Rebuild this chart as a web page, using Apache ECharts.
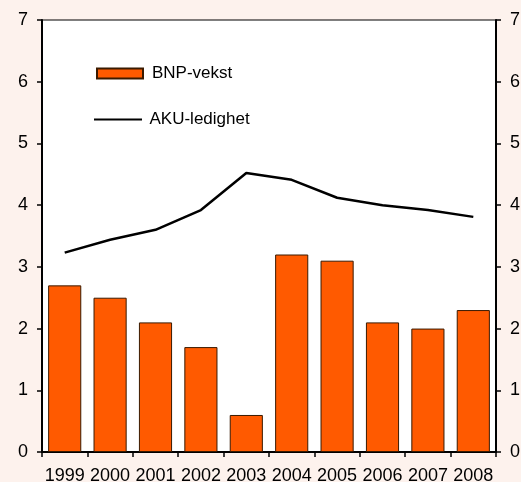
<!DOCTYPE html>
<html><head><meta charset="utf-8">
<script src="https://cdn.jsdelivr.net/npm/echarts@6/dist/echarts.min.js"></script>
<style>html,body{margin:0;padding:0;background:#fdf2ed;}#c{width:521px;height:482px;}</style>
</head><body><div id="c"></div>
<script>
const years = ['1999','2000','2001','2002','2003','2004','2005','2006','2007','2008'];
const bnpVekst = [2.7, 2.5, 2.1, 1.7, 0.6, 3.2, 3.1, 2.1, 2.0, 2.3];
const akuLedighet = [3.23, 3.44, 3.6, 3.92, 4.52, 4.41, 4.12, 4.0, 3.92, 3.81];
const yTicks = [0,1,2,3,4,5,6,7];

const chart = echarts.init(document.getElementById('c'));
const font = 'Liberation Sans, Arial, sans-serif';
const yAxisBase = {
  type: 'value', min: 0, max: 7, interval: 1,
  axisLine: {show: true, lineStyle: {color: '#000', width: 2}},
  axisTick: {show: true, length: 5, lineStyle: {color: '#000', width: 1.5}},
  splitLine: {show: false},
  axisLabel: {color: '#000', fontSize: 18, fontFamily: font, margin: 14,
    formatter: v => yTicks.includes(v) ? String(v) : ''}
};
chart.setOption({
  backgroundColor: '#fdf2ed',
  animation: false,
  grid: {left: 42, right: 25, top: 20, bottom: 30, outerBoundsMode: 'none', containLabel: false,
    show: true, backgroundColor: '#fff', borderColor: '#000', borderWidth: 1},
  legend: [
    {data: [{name: 'BNP-vekst', icon: 'rect'}], left: 96, top: 65, padding: 0, itemWidth: 46, itemHeight: 10,
      textStyle: {fontSize: 17, fontFamily: font, color: '#000', padding: [0, 0, 0, 4]}},
    {data: [{name: 'AKU-ledighet', icon: 'path://M0,0H48V2H0Z'}], left: 94, top: 111, padding: 0, itemWidth: 49, itemHeight: 2,
      textStyle: {fontSize: 17, fontFamily: font, color: '#000', padding: [0, 0, 0, 2]}}
  ],
  xAxis: {
    type: 'category', data: years,
    axisLine: {show: true, lineStyle: {color: '#000', width: 2}},
    axisTick: {show: true, length: 5, alignWithLabel: false, lineStyle: {color: '#000', width: 1.5}},
    axisLabel: {color: '#000', fontSize: 18, fontFamily: font, margin: 15, interval: 0}
  },
  yAxis: [
    Object.assign({}, yAxisBase, {position: 'left'}),
    Object.assign({}, yAxisBase, {position: 'right'})
  ],
  series: [
    {name: 'BNP-vekst', type: 'bar', data: bnpVekst, barCategoryGap: '27%',
      itemStyle: {color: '#ff5a00', borderColor: '#3a1a00', borderWidth: 1}},
    {name: 'AKU-ledighet', type: 'line', data: akuLedighet, symbol: 'none',
      lineStyle: {color: '#000', width: 2.5}, itemStyle: {color: '#000'}}
  ]
});
</script></body></html>
